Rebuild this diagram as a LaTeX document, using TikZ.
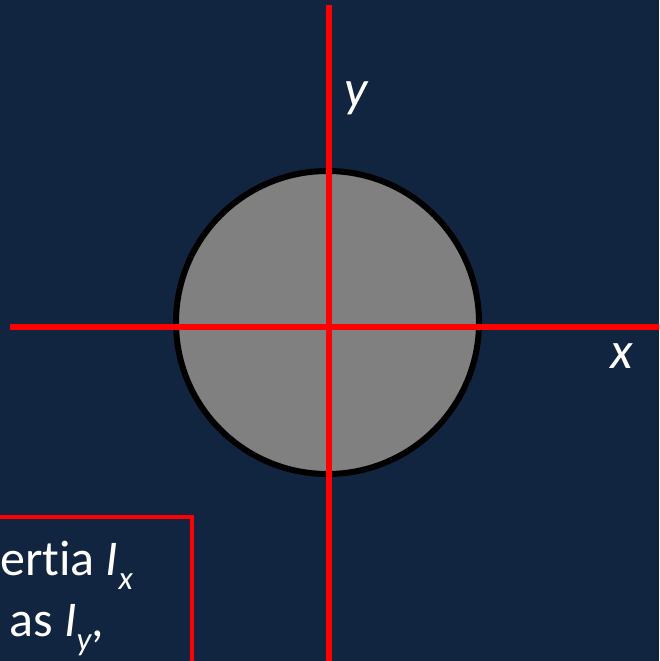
\documentclass[tikz,border=0pt]{standalone}
\usepackage{fontspec}
\setmainfont[Ligatures=NoCommon]{Carlito}
\usepackage{tikz}
\usetikzlibrary{positioning}
\definecolor{mi-navy}{RGB}{17,36,64}
\definecolor{mi-red}{RGB}{255,0,0}
\definecolor{mi-gray}{RGB}{128,128,128}
\newcommand{\misub}[1]{\raisebox{-14pt}{\fontsize{33}{38}\selectfont\itshape #1}}
\tikzset{
  mi@axis/.style={draw=mi-red, line width=6pt},
  mi@disk/.style={circle, draw=black, line width=6pt, fill=mi-gray,
                  minimum size=303pt, inner sep=0pt},
  mi@lbl/.style={text=white, font=\fontsize{52}{60}\selectfont\itshape,
                 inner sep=0pt},
  mi@note/.style={text=white, font=\fontsize{50}{58}\selectfont,
                  inner sep=0pt, anchor=base west},
  mi@frame/.style={draw=mi-red, line width=4pt},
}
\begin{document}
\begin{tikzpicture}[x=1pt, y=-1pt]
  \useasboundingbox (0,0) rectangle (659,661);
  \clip (0,0) rectangle (659,661);
  \fill[mi-navy] (0,0) rectangle (659,661);
  % cross-section with its centroidal axes
  \node[mi@disk] (disk) at (327.5,322.5) {};
  \coordinate (ytop) at (328.5,5);
  \coordinate (ybot) at (328.5,670);
  \coordinate (xleft) at (10,327);
  \coordinate (xright) at (670,327);
  \draw[mi@axis] (ytop) -- (ybot);
  \draw[mi@axis] (xleft) -- (xright);
  \node[mi@lbl, anchor=base] (ylbl) at (356,106) {y};
  \node[mi@lbl, anchor=base] (xlbl) at (622,368) {x};
  % note box, cut off by the page
  \draw[mi@frame] (-10,516.5) rectangle (191.5,680);
  \node[mi@note] (line1) at (0,575) {ertia \textit{I}\misub{x}};
  \node[mi@note] (line2) at (9,636) {as \textit{I}\misub{y},};
\end{tikzpicture}
\end{document}
